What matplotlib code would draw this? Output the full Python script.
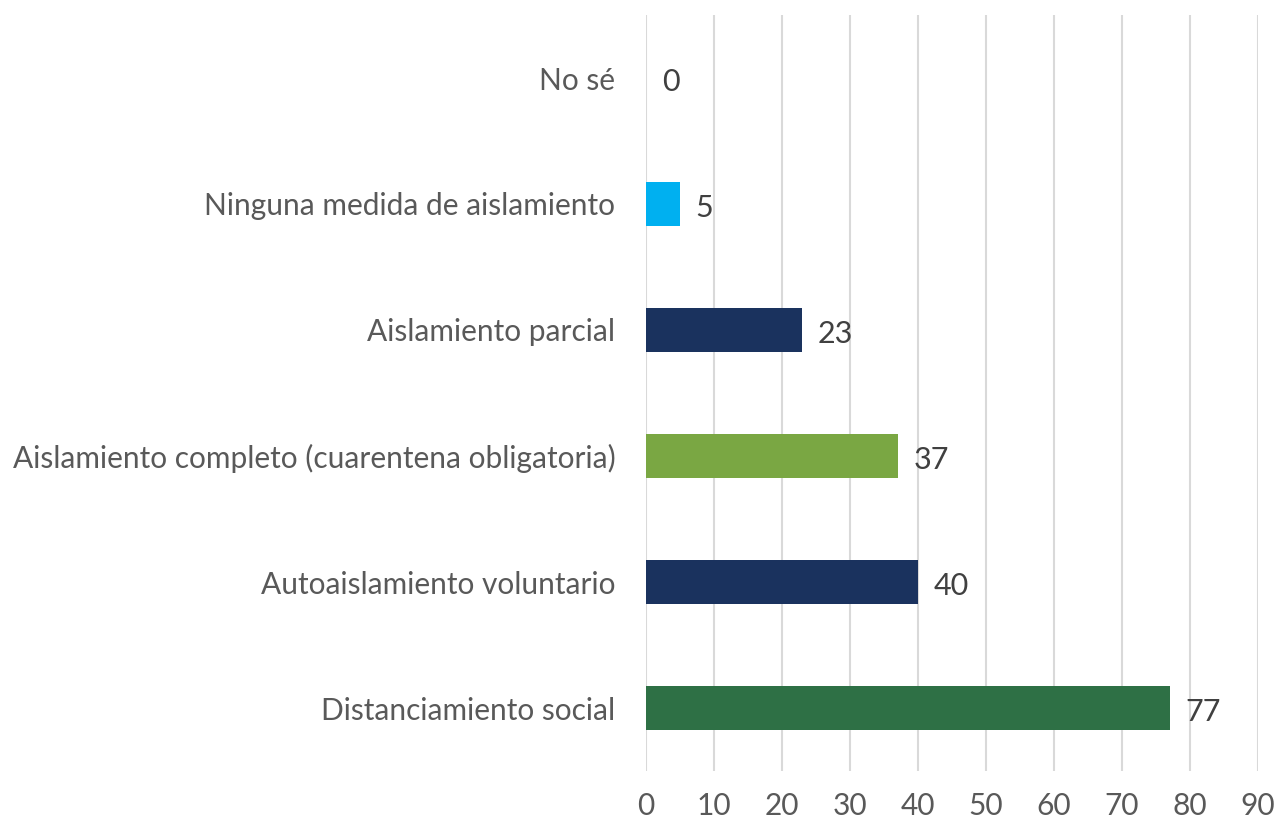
import matplotlib
matplotlib.use("Agg")
import matplotlib.pyplot as plt

categories = ["Distanciamiento social", "Autoaislamiento voluntario",
              "Aislamiento completo (cuarentena obligatoria)", "Aislamiento parcial",
              "Ninguna medida de aislamiento", "No sé"]
values = [77, 40, 37, 23, 5, 0]
colors = ["#2E7045", "#1A325E", "#7AA743", "#1A325E", "#00B0F0", "#1A325E"]
xticks = list(range(0, 100, 10))

plt.rcParams['font.family'] = ['Lato', 'DejaVu Sans']

fig = plt.figure(figsize=(12.78, 8.25), dpi=100)
ax = fig.add_axes([646/1278, 1-771/825, (1258-646)/1278, (771-15)/825])

y = list(range(len(categories)))
ax.barh(y, values, height=0.35, color=colors, zorder=3)
for yi, v in zip(y, values):
    ax.text(v + 2.3, yi - 0.03, str(v), va='center', ha='left', fontsize=22, color='#404040')

ax.set_xlim(0, 90)
ax.set_ylim(-0.5, 5.5)
ax.set_yticks(y)
ax.set_yticklabels(categories, fontsize=21.5, color='#595959')
ax.set_xticks(xticks)
ax.set_xticklabels([str(t) for t in xticks], fontsize=21.5, color='#595959')
ax.tick_params(axis='both', length=0)
ax.tick_params(axis='y', pad=22)
ax.tick_params(axis='x', pad=15)
ax.grid(axis='x', color='#D9D9D9', linewidth=1.5, zorder=0)
for s in ax.spines.values():
    s.set_visible(False)

fig.savefig("out.png", dpi=100)
